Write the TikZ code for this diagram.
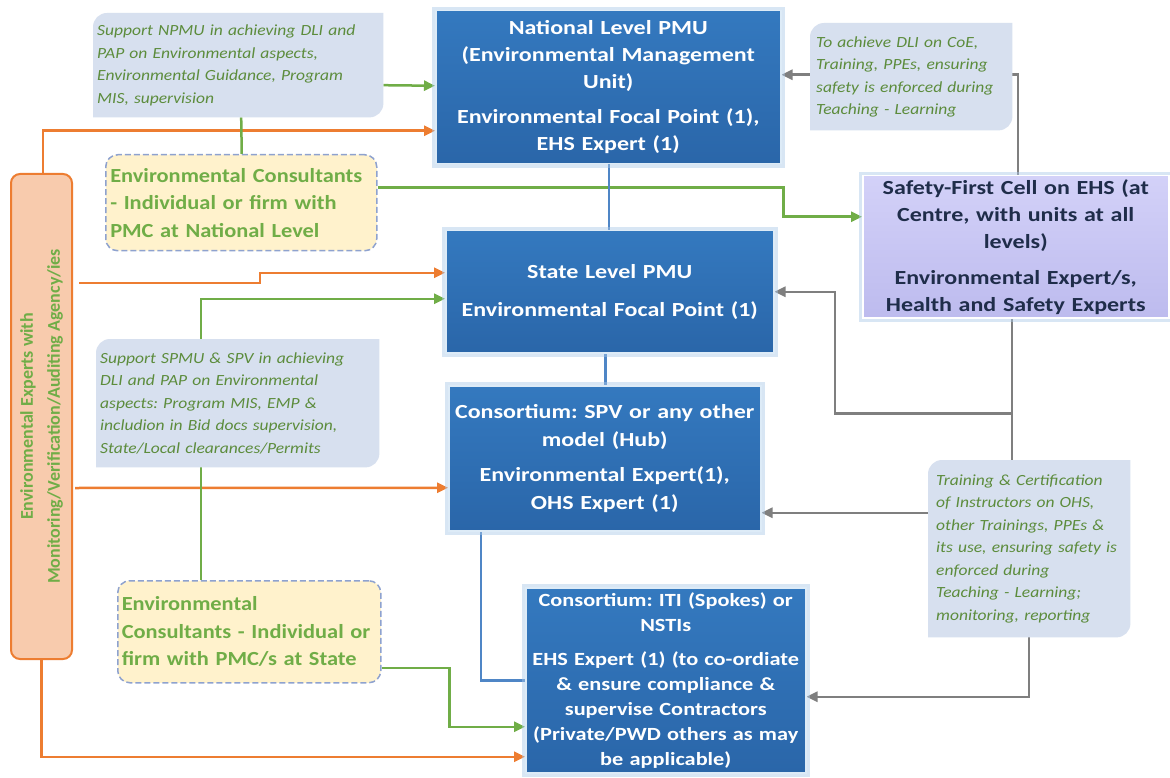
\documentclass[tikz,border=0pt]{standalone}
\usepackage{fontspec}
\setmainfont{Carlito}
\newfontfamily\boxfont{Carlito}[FakeStretch=1.2]
\newfontfamily\notefont{Carlito}[FakeStretch=1.13]
\newfontfamily\consfont{Carlito}[FakeStretch=1.12]
\usetikzlibrary{arrows.meta}
\pgfdeclarelayer{paper}
\pgfdeclarelayer{conn}
\pgfdeclarelayer{mid}
\pgfsetlayers{paper,conn,mid,main}
\definecolor{oline}{HTML}{ED7D31}
\definecolor{ofill}{HTML}{F8CBAD}
\definecolor{gline}{HTML}{70AD47}
\definecolor{greyline}{HTML}{7F7F7F}
\definecolor{bline}{HTML}{4F86C6}
\definecolor{notefill}{HTML}{D7E0EF}
\definecolor{notegreen}{HTML}{5C8C3C}
\definecolor{consfill}{HTML}{FFF2CC}
\definecolor{consdash}{HTML}{8EA2CF}
\definecolor{boxtop}{HTML}{3479BF}
\definecolor{boxbot}{HTML}{2A66A9}
\definecolor{boxedge}{HTML}{DDEBF7}
\definecolor{glow}{HTML}{A9C8E8}
\definecolor{cellTop}{HTML}{D3D1F8}
\definecolor{cellBot}{HTML}{BDBBEE}
\definecolor{celltext}{HTML}{1F2D4A}
\newcommand\notebg[1]{%
  \fill[notefill] (#1.south west) -- ([yshift=-14pt]#1.north west)
    arc[start angle=180,end angle=90,radius=14pt] -- (#1.north east)
    -- ([yshift=14pt]#1.south east)
    arc[start angle=0,end angle=-90,radius=14pt] -- cycle;}
\frenchspacing
\begin{document}
\begin{tikzpicture}[x=1pt,y=1pt,
  bluebox/.style={anchor=north west, inner xsep=1pt, inner ysep=0pt,
    top color=boxtop, bottom color=boxbot, draw=boxedge, line width=1.5pt,
    preaction={draw=glow, line width=8pt, opacity=0.45},
    text=white, align=center, font=\boxfont\bfseries\fontsize{20}{27}\selectfont},
  cellbox/.style={bluebox, top color=cellTop, bottom color=cellBot,
    draw=white, text=celltext},
  note/.style={anchor=north west, inner ysep=0pt, align=left, text=notegreen,
    font=\notefont\itshape\fontsize{15.5}{22.5}\selectfont},
  cons/.style={anchor=north west, inner ysep=0pt, align=left, text=gline,
    fill=consfill, draw=consdash, dash pattern=on 6pt off 3pt, line width=1.5pt,
    rounded corners=12pt, font=\consfont\bfseries\fontsize{20}{27.5}\selectfont},
  oconn/.style={draw=oline, line width=2.5pt, -{Triangle[length=11pt,width=10pt]}},
  gconn/.style={draw=gline, line width=2.5pt, -{Triangle[length=11pt,width=10pt]}},
  gplain/.style={draw=gline, line width=2.5pt},
  greyconn/.style={draw=greyline, line width=2.5pt, -{Triangle[length=11pt,width=10pt]}},
  bconn/.style={draw=bline, line width=2.5pt}
]
\begin{pgfonlayer}{paper}
\fill[white] (0,0) rectangle (1170,-778);
\end{pgfonlayer}
\useasboundingbox (0,0) rectangle (1170,-778);

% main boxes
\node[bluebox, minimum width=345pt, minimum height=153pt, text width=343pt] (npmu) at (435,-10)
  {National Level PMU\\(Environmental Management\\Unit)\\[8pt]Environmental Focal Point (1),\\EHS Expert (1)};
\node[bluebox, minimum width=328pt, minimum height=122pt, text width=326pt] (spmu) at (445,-230)
  {State Level PMU\\[11pt]Environmental Focal Point (1)};
\node[bluebox, minimum width=312pt, minimum height=145pt, text width=310pt,
  font=\boxfont\bfseries\fontsize{20}{28}\selectfont] (hub) at (448,-385)
  {Consortium: SPV or any other\\model (Hub)\\[7pt]Environmental Expert(1),\\OHS Expert (1)};
\node[bluebox, minimum width=280pt, minimum height=185pt, text width=278pt,
  font=\boxfont\bfseries\fontsize{18.6}{24.8}\selectfont] (iti) at (525,-587)
  {Consortium: ITI (Spokes) or\\NSTIs\\[10pt]EHS Expert (1) (to co-ordiate\\\& ensure compliance \&\\supervise Contractors\\(Private/PWD others as may\\be applicable)};
\node[cellbox, minimum width=306pt, minimum height=142pt, text width=304pt] (safety) at (862,-175)
  {Safety-First Cell on EHS (at\\Centre, with units at all\\levels)\\[9pt]Environmental Expert/s,\\Health and Safety Experts};

% orange side box
\node[anchor=north west, minimum width=61pt, minimum height=485pt, inner sep=0pt,
  fill=ofill, draw=oline, line width=2pt, rounded corners=9pt] (orange) at (10,-173) {};
\node[rotate=90, align=center, text=gline, font=\bfseries\fontsize{18}{27}\selectfont] (orangetext)
  at (orange.center) {Environmental Experts with\\Monitoring/Verification/Auditing Agency/ies};

% consultants
\node[cons, inner xsep=4.5pt, text width=262pt, minimum height=96pt] (consN) at (105,-154)
  {Environmental Consultants\\- Individual or firm with\\PMC at National Level};
\node[cons, inner xsep=4pt, text width=255pt, minimum height=102pt] (consS) at (117,-580)
  {Environmental\\Consultants - Individual or\\firm with PMC/s at State};

% notes
\node[note, inner xsep=4pt, text width=282pt, minimum height=104pt] (noteN) at (93,-13)
  {Support NPMU in achieving DLI and\\PAP on Environmental aspects,\\Environmental Guidance, Program\\MIS, supervision};
\node[note, inner xsep=6pt, text width=190pt, minimum height=107pt] (noteT) at (810,-23)
  {To achieve DLI on CoE,\\Training, PPEs, ensuring\\safety is enforced during\\Teaching - Learning};
\node[note, inner xsep=4pt, text width=275pt, minimum height=128pt] (noteS) at (96,-339)
  {Support SPMU \& SPV in achieving\\DLI and PAP on Environmental\\aspects: Program MIS, EMP \&\\includion in Bid docs supervision,\\State/Local clearances/Permits};
\node[note, inner xsep=8pt, text width=186pt, minimum height=177pt] (noteTr) at (928,-460)
  {Training \& Certification\\of Instructors on OHS,\\other Trainings, PPEs \&\\its use, ensuring safety is\\enforced during\\Teaching - Learning;\\monitoring, reporting};

\begin{pgfonlayer}{mid}
\notebg{noteN}
\notebg{noteT}
\notebg{noteS}
\notebg{noteTr}
\end{pgfonlayer}

\begin{pgfonlayer}{conn}
% orange
\draw[oconn] ([xshift=1.5pt]orange.north) |- ([yshift=-43.5pt]npmu.west);
\draw[oconn] ([shift={(6pt,133.5pt)}]orange.east) -- ++(181,0) |- ([yshift=19pt]spmu.west);
\draw[oconn] ([shift={(2pt,-71.5pt)}]orange.east) -- ([yshift=-29.5pt]hub.west);
\draw[oconn] (orange.south) |- ([yshift=-76.5pt]iti.west);
% green
\draw[gconn] ([yshift=-20pt]noteN.east) -- ([yshift=1.5pt]npmu.west);
\draw[gplain] ([xshift=3pt]noteN.south) -- ([xshift=0.5pt]consN.north);
\draw[gconn] ([yshift=15pt]consN.east) -- ++(406,0) |- ([yshift=30pt]safety.west);
\draw[gconn] ([xshift=-48.5pt]consS.north) |- ([yshift=-7pt]spmu.west);
\draw[gconn] ([yshift=-36pt]consS.east) -- ++(68,0) |- ([yshift=-46.5pt]iti.west);
% blue
\draw[bconn] ([xshift=0.5pt]npmu.south) -- ([xshift=-1pt]spmu.north);
\draw[bconn] ([xshift=-4.5pt]spmu.south) -- ([xshift=0.5pt]hub.north);
\draw[bconn] ([xshift=-124pt]hub.south) |- (iti.west);
% grey
\draw[greyconn] ([xshift=2pt]safety.north) |- ([yshift=12.5pt]npmu.east);
\draw[greyconn] ([xshift=-4pt]safety.south) |- ++(-177,-95) |- (spmu.east);
\draw[greyconn] ([xshift=-4pt]safety.south) |- ([yshift=-54.5pt]hub.east);
\draw[greyconn] (noteTr.south) |- ([yshift=-16.5pt]iti.east);
\end{pgfonlayer}
\end{tikzpicture}
\end{document}
